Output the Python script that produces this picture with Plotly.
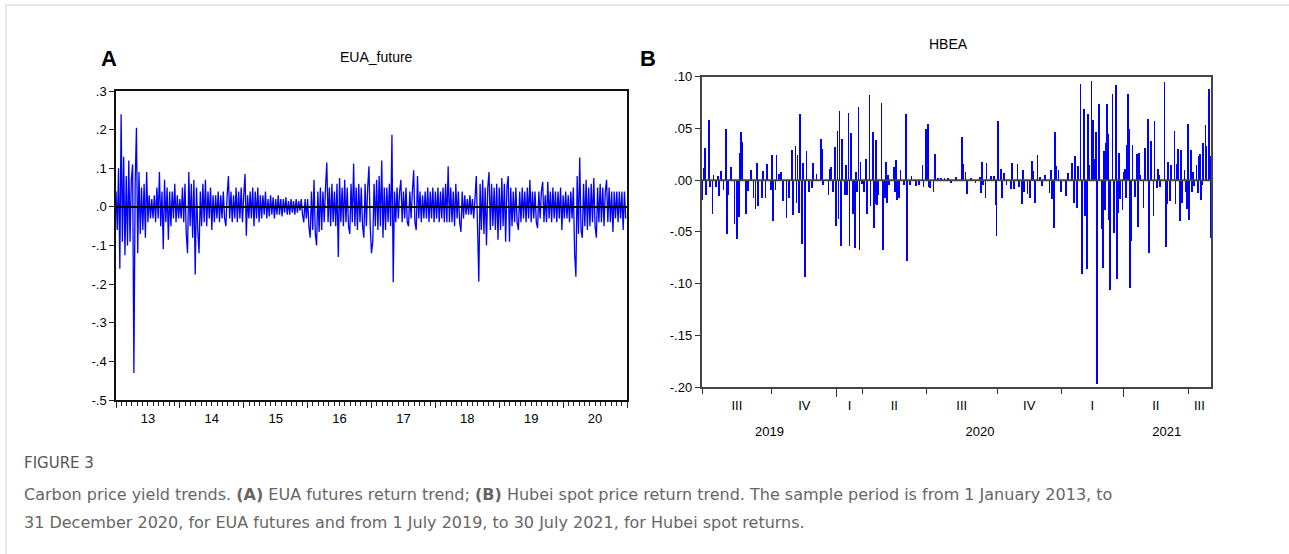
import plotly.graph_objects as go

# ---------------- EUA futures daily returns (panel A), ~50 readings per year ----------------
eua_years = [2013, 2014, 2015, 2016, 2017, 2018, 2019, 2020]
eua_2013 = [0.04, -0.06, 0.10, -0.16, 0.24, -0.09, 0.13, -0.125, 0.08, -0.10, 0.12, -0.09, 0.07, 0.11, -0.43,
            0.06, 0.205, -0.12, 0.09, -0.07, 0.05, -0.06, 0.06, -0.08, 0.09, -0.04, 0.03, -0.03, 0.02, -0.03,
            0.03, -0.04, 0.05, -0.03, 0.09, -0.05, 0.04, -0.11, 0.07, -0.04, 0.05, -0.085, 0.04, -0.05, 0.04,
            -0.03, 0.06, -0.04, 0.03, -0.03]
eua_2014 = [0.02, -0.03, 0.05, -0.04, 0.06, -0.07, -0.12, 0.09, -0.05, 0.06, -0.08, 0.07, -0.175, 0.05, -0.06,
            -0.12, 0.04, -0.05, 0.06, -0.04, 0.07, -0.05, 0.04, -0.03, 0.05, -0.06, 0.03, -0.04, 0.03, -0.03,
            0.04, -0.04, 0.03, -0.03, 0.04, -0.03, -0.05, 0.03, 0.08, -0.03, 0.04, -0.04, 0.03, -0.03, 0.05,
            -0.04, 0.04, -0.03, 0.05, -0.04]
eua_2015 = [0.03, 0.085, -0.075, 0.03, -0.03, 0.04, -0.03, 0.05, -0.05, 0.04, -0.03, 0.05, -0.04, 0.03, -0.03,
            0.03, -0.02, 0.04, -0.03, 0.02, -0.025, 0.03, -0.02, 0.025, -0.03, 0.02, -0.02, 0.03, -0.02, 0.02,
            -0.025, 0.02, -0.015, 0.025, -0.02, 0.015, -0.02, 0.02, -0.015, 0.015, -0.02, 0.02, -0.015, 0.015,
            -0.01, 0.02, -0.02, -0.04, 0.02, -0.03]
eua_2016 = [0.02, -0.05, -0.08, 0.04, -0.06, 0.07, -0.07, -0.10, 0.04, -0.065, 0.05, -0.06, 0.04, -0.04, 0.05,
            0.115, -0.04, 0.05, -0.05, 0.06, -0.04, 0.04, -0.05, 0.06, -0.13, 0.075, -0.04, 0.05, -0.05, 0.07,
            -0.04, 0.05, -0.05, -0.07, 0.06, -0.04, 0.112, -0.05, 0.05, -0.06, 0.06, -0.04, 0.05, -0.05, -0.08,
            0.06, -0.05, 0.05, 0.105, -0.05]
eua_2017 = [-0.12, -0.09, 0.06, -0.05, 0.07, -0.06, 0.08, -0.05, 0.12, -0.08, 0.05, -0.06, 0.05, -0.04, 0.06,
            -0.05, 0.187, -0.195, 0.04, -0.04, 0.05, -0.03, 0.04, 0.07, -0.04, 0.04, -0.03, 0.05, -0.04, -0.05,
            0.04, -0.03, 0.04, 0.095, -0.04, -0.06, 0.08, -0.03, 0.04, -0.04, 0.03, -0.03, 0.04, -0.03, 0.05,
            -0.04, 0.04, -0.03, 0.05, -0.04]
eua_2018 = [0.04, -0.03, 0.05, -0.04, 0.04, -0.03, 0.05, -0.04, 0.06, -0.04, 0.105, -0.04, 0.05, -0.04, 0.04,
            -0.05, 0.06, -0.03, 0.04, -0.04, -0.065, 0.04, -0.03, 0.03, -0.02, 0.02, -0.02, 0.03, -0.02, 0.02,
            -0.03, 0.02, 0.08, -0.05, -0.194, 0.06, -0.06, 0.07, -0.07, 0.05, -0.10, 0.05, 0.09, -0.06, 0.06,
            -0.05, 0.05, -0.06, 0.06, -0.085]
eua_2019 = [0.05, -0.06, 0.075, -0.05, 0.06, -0.09, 0.05, 0.08, -0.09, 0.05, -0.05, 0.04, -0.04, 0.05, -0.04,
            -0.06, 0.04, -0.04, 0.05, -0.03, 0.04, -0.04, 0.05, -0.03, 0.07, -0.04, 0.04, -0.03, 0.04, -0.04,
            -0.055, 0.04, -0.03, 0.04, 0.065, -0.04, 0.03, -0.04, 0.065, -0.03, 0.04, -0.04, 0.05, -0.03, 0.04,
            -0.04, 0.04, -0.03, 0.05, -0.06]
eua_2020 = [0.03, -0.03, 0.04, -0.03, 0.03, -0.04, 0.04, -0.03, 0.05, -0.12, -0.181, 0.08, -0.07, 0.128, -0.06,
            -0.08, 0.06, -0.05, 0.07, -0.06, 0.05, -0.05, 0.06, -0.04, 0.075, -0.05, -0.08, 0.05, -0.04, 0.06,
            -0.04, 0.05, -0.05, 0.04, 0.07, -0.04, 0.05, -0.04, 0.04, -0.065, 0.04, -0.03, 0.04, -0.04, 0.04,
            -0.03, 0.04, -0.06, 0.04, -0.03]
eua_by_year = [eua_2013, eua_2014, eua_2015, eua_2016, eua_2017, eua_2018, eua_2019, eua_2020]
eua_tick_labels = ['13', '14', '15', '16', '17', '18', '19', '20']
eua_y_ticks = [-0.5, -0.4, -0.3, -0.2, -0.1, 0.0, 0.1, 0.2, 0.3]
eua_y_labels = ['-.5', '-.4', '-.3', '-.2', '-.1', '.0', '.1', '.2', '.3']

# ---------------- Hubei (HBEA) spot returns (panel B): (observation number, return) ----------------
hbea_points = [
    (0, -0.019), (1, 0.012), (2, 0.031), (3, -0.014), (6, 0.058), (7, -0.006), (9, -0.032), (10, 0.005),
    (12, -0.006), (14, 0.004), (15, -0.015), (17, 0.009), (19, -0.009), (21, 0.050), (22, -0.052), (23, -0.014),
    (26, 0.013), (29, -0.042), (31, -0.057), (33, -0.035), (34, 0.027), (35, 0.047), (36, 0.037), (39, -0.032),
    (41, -0.010), (44, 0.010), (46, -0.017), (48, -0.028), (49, 0.017), (50, -0.025), (54, -0.017), (55, 0.009),
    (57, -0.017), (58, 0.016), (62, -0.009), (63, 0.025), (64, -0.039), (66, -0.009), (67, 0.025), (69, 0.006),
    (71, 0.008), (73, -0.020), (76, -0.036), (78, -0.017), (81, 0.029), (82, -0.033), (84, 0.033), (85, -0.022),
    (86, 0.025), (87, -0.031), (88, 0.064), (90, -0.061), (91, 0.017), (93, -0.093), (94, 0.028), (96, -0.011),
    (99, -0.007), (100, 0.017), (103, 0.006), (107, 0.040), (108, 0.030), (109, -0.004), (114, -0.014),
    (115, 0.011), (116, 0.013), (118, -0.011), (120, 0.032), (121, -0.044), (122, 0.048), (123, -0.037),
    (124, 0.067), (125, -0.063), (126, 0.040), (129, -0.014), (130, 0.015), (131, -0.014), (132, 0.065),
    (133, -0.063), (134, 0.046), (136, -0.032), (138, -0.065), (139, 0.008), (140, -0.011), (141, 0.071),
    (142, -0.067), (143, 0.018), (144, -0.003), (146, -0.011), (148, 0.021), (149, -0.032), (151, 0.083),
    (152, -0.025), (154, 0.047), (155, -0.046), (156, -0.023), (157, 0.039), (158, -0.024), (159, -0.014),
    (162, 0.075), (163, -0.067), (165, -0.017), (166, 0.018), (167, -0.022), (168, 0.005), (169, -0.004),
    (173, 0.013), (174, -0.011), (175, 0.020), (176, -0.019), (178, -0.017), (179, 0.010), (182, -0.004),
    (184, 0.064), (185, -0.078), (188, -0.004), (189, 0.004), (193, -0.005), (196, -0.004), (199, 0.015),
    (200, -0.006), (202, 0.050), (204, 0.055), (205, -0.006), (206, -0.007), (209, -0.011), (210, 0.026),
    (213, 0.002), (216, 0.002), (219, 0.002), (222, 0.002), (225, -0.002), (229, 0.003), (235, 0.042),
    (236, 0.016), (238, 0.008), (239, -0.013), (243, 0.002), (247, -0.002), (251, 0.003), (252, -0.012),
    (253, 0.018), (254, -0.004), (256, -0.017), (257, 0.017), (261, 0.004), (264, 0.004), (265, -0.024),
    (266, -0.054), (267, 0.057), (270, 0.011), (271, -0.017), (273, 0.007), (275, -0.004), (279, -0.008),
    (280, 0.017), (282, -0.008), (285, 0.016), (286, -0.006), (289, -0.023), (290, 0.010), (291, -0.011),
    (294, -0.013), (296, -0.017), (298, 0.019), (299, 0.009), (301, -0.022), (303, 0.025), (305, 0.003),
    (307, -0.005), (310, 0.005), (314, -0.012), (315, 0.010), (316, -0.018), (318, -0.046), (319, 0.047),
    (320, 0.014), (322, 0.010), (324, -0.011), (329, -0.015), (331, 0.007), (334, 0.017), (336, -0.022),
    (337, 0.024), (339, -0.027), (340, 0.014), (342, 0.093), (343, -0.090), (345, 0.069), (346, -0.034),
    (347, -0.007), (348, -0.086), (349, 0.064), (350, 0.015), (352, 0.096), (353, 0.058), (354, 0.021),
    (356, 0.047), (357, -0.197), (359, 0.074), (361, -0.047), (362, -0.085), (363, 0.028), (364, -0.029),
    (365, 0.036), (366, 0.074), (367, 0.045), (368, -0.038), (369, -0.106), (371, 0.084), (372, -0.051),
    (374, 0.092), (375, -0.095), (376, -0.031), (377, 0.027), (378, -0.018), (380, -0.029), (381, 0.008),
    (382, 0.011), (383, -0.017), (384, 0.034), (385, 0.084), (386, 0.050), (387, -0.104), (388, -0.059),
    (389, 0.034), (391, -0.016), (393, 0.026), (394, -0.045), (395, 0.027), (396, 0.005), (399, -0.027),
    (400, 0.031), (403, 0.059), (404, -0.070), (406, 0.038), (408, -0.034), (409, 0.057), (411, -0.007),
    (412, 0.011), (413, 0.005), (414, -0.006), (418, 0.095), (419, -0.064), (420, -0.023), (421, 0.018),
    (423, -0.020), (424, 0.015), (427, 0.048), (428, -0.023), (429, 0.016), (430, 0.030), (432, -0.039),
    (433, 0.029), (434, -0.022), (436, 0.010), (437, -0.011), (438, -0.028), (439, 0.055), (440, -0.038),
    (442, 0.029), (443, -0.011), (444, 0.008), (445, -0.005), (447, 0.015), (448, -0.012), (449, 0.024),
    (450, 0.026), (451, -0.019), (452, -0.004), (453, 0.036), (455, 0.054), (456, 0.033), (458, 0.088),
    (459, 0.024), (460, -0.056),
]
hbea_n_obs = 461
hbea_quarter_start = [0, 63, 122, 145, 203, 267, 325, 381, 440]
hbea_quarter_labels = ['III', 'IV', 'I', 'II', 'III', 'IV', 'I', 'II', 'III']
hbea_year_start = [0, 122, 381]
hbea_year_labels = ['2019', '2020', '2021']
hbea_y_ticks = [-0.20, -0.15, -0.10, -0.05, 0.0, 0.05, 0.10]
hbea_y_labels = ['-.20', '-.15', '-.10', '-.05', '.00', '.05', '.10']

# ---------------- derived series ----------------
eua_x, eua_y = [], []
for yr, vals in zip(eua_years, eua_by_year):
    n = len(vals)
    for i, v in enumerate(vals):
        eua_x.append(yr + i / n)
        eua_y.append(v)
eua_year_mid = [y + 0.5 for y in eua_years]
eua_year_bounds = eua_years + [eua_years[-1] + 1]
eua_months = [y + m / 12 for y in eua_years for m in range(12)] + [eua_years[-1] + 1]

hbea_obs = [p[0] for p in hbea_points]
hbea_ret = [p[1] for p in hbea_points]
q_bounds = hbea_quarter_start + [hbea_n_obs - 1]
hbea_quarter_mid = [(q_bounds[i] + q_bounds[i + 1]) / 2 for i in range(len(hbea_quarter_start))]
y_bounds = hbea_year_start + [hbea_n_obs - 1]
hbea_year_mid = [(y_bounds[i] + y_bounds[i + 1]) / 2 for i in range(len(hbea_year_start))]

W, H = 1289, 554
def px(x):
    return x / W
def py(y):
    return 1 - y / H

FONT = 'Liberation Sans, Arial, sans-serif'
CAP_FONT = 'DejaVu Sans, sans-serif'
BLUE = '#0000ff'

fig = go.Figure()
fig.add_trace(go.Scatter(x=eua_x, y=eua_y, mode='lines', line=dict(color=BLUE, width=1.3, simplify=False),
                         xaxis='x', yaxis='y', hoverinfo='skip', showlegend=False))
fig.add_trace(go.Bar(x=hbea_obs, y=hbea_ret, width=0.7, marker=dict(color=BLUE, line=dict(width=0)),
                     xaxis='x2', yaxis='y2', hoverinfo='skip', showlegend=False))
# carriers for the overlay tick axes
for xa, ya, xv in [('x3', 'y', 2017), ('x4', 'y2', 200), ('x5', 'y2', 200)]:
    fig.add_trace(go.Scatter(x=[xv], y=[0], mode='markers', marker=dict(opacity=0),
                             xaxis=xa, yaxis=ya, hoverinfo='skip', showlegend=False))

A_dom_x = [px(116), px(627)]
A_dom_y = [py(400), py(91)]
B_dom_x = [px(701.5), px(1211)]
B_dom_y = [py(387), py(76.7)]
tick_font = dict(family=FONT, size=13, color='#000')

fig.update_layout(
    template='none',
    width=W, height=H, margin=dict(l=0, r=0, t=0, b=0, pad=0, autoexpand=False),
    paper_bgcolor='white', plot_bgcolor='white', showlegend=False,
    font=dict(family=FONT, size=13, color='#000'),
    bargap=0,
    xaxis=dict(domain=A_dom_x, anchor='y', range=[eua_years[0], eua_years[-1] + 1], automargin=False,
               tickmode='array', tickvals=eua_year_mid, ticktext=eua_tick_labels,
               ticks='outside', ticklen=4, tickcolor='#222', tickwidth=1,
               minor=dict(tickmode='array', tickvals=eua_months, ticks='outside', ticklen=4,
                          tickcolor='#222', tickwidth=1, showgrid=False),
               ticklabelstandoff=2, tickfont=tick_font,
               showline=True, mirror=True, linecolor='#111', linewidth=1.5,
               showgrid=False, zeroline=False),
    xaxis3=dict(overlaying='x', anchor='y', range=[eua_years[0], eua_years[-1] + 1], automargin=False,
                tickmode='array', tickvals=eua_year_bounds, ticks='outside', ticklen=7,
                tickcolor='#222', tickwidth=1, showticklabels=False, showline=False,
                showgrid=False, zeroline=False, side='bottom'),
    yaxis=dict(domain=A_dom_y, anchor='x', range=[-0.5, 0.3], automargin=False,
               tickmode='array', tickvals=eua_y_ticks, ticktext=eua_y_labels,
               ticks='outside', ticklen=5, tickcolor='#222', tickfont=tick_font,
               showline=True, mirror=True, linecolor='#111', linewidth=1.5,
               showgrid=False, zeroline=False),
    xaxis2=dict(domain=B_dom_x, anchor='y2', range=[-0.5, hbea_n_obs - 0.5], automargin=False,
                tickmode='array', tickvals=hbea_quarter_mid, ticktext=hbea_quarter_labels,
                ticks='outside', ticklen=0, tickcolor='#333',
                minor=dict(tickmode='array', tickvals=hbea_quarter_start, ticks='outside', ticklen=5,
                           tickcolor='#333', tickwidth=1, showgrid=False),
                ticklabelstandoff=6, tickfont=tick_font,
                showline=True, mirror=True, linecolor='#444', linewidth=1.5,
                showgrid=False, zeroline=False),
    xaxis4=dict(overlaying='x2', anchor='y2', range=[-0.5, hbea_n_obs - 0.5], automargin=False,
                tickmode='array', tickvals=hbea_year_start[1:], ticks='outside', ticklen=9,
                tickcolor='#333', tickwidth=1, showticklabels=False, showline=False,
                showgrid=False, zeroline=False, side='bottom'),
    xaxis5=dict(overlaying='x2', anchor='y2', range=[-0.5, hbea_n_obs - 0.5], automargin=False,
                tickmode='array', tickvals=hbea_year_mid, ticktext=hbea_year_labels,
                ticks='', ticklabelstandoff=35, tickfont=tick_font, showline=False,
                showgrid=False, zeroline=False, side='bottom'),
    yaxis2=dict(domain=B_dom_y, anchor='x2', range=[-0.2, 0.1], automargin=False,
                tickmode='array', tickvals=hbea_y_ticks, ticktext=hbea_y_labels,
                ticks='outside', ticklen=5, tickcolor='#333', tickfont=tick_font,
                showline=True, mirror=True, linecolor='#444', linewidth=1.5,
                showgrid=False, zeroline=False),
)

# zero reference lines
fig.add_shape(type='line', xref='x domain', yref='y', x0=0, x1=1, y0=0, y1=0,
              line=dict(color='#000', width=2), layer='above')
fig.add_shape(type='line', xref='x2 domain', yref='y2', x0=0, x1=1, y0=0, y1=0,
              line=dict(color='#444', width=2), layer='above')
# page frame
fig.add_shape(type='rect', xref='paper', yref='paper', x0=px(6), x1=1.05, y0=-0.05, y1=py(5),
              line=dict(color='#d0d0d0', width=1), fillcolor='rgba(0,0,0,0)', layer='below')

ann = [
    dict(text='<b>A</b>', x=px(99), y=py(58), xanchor='left', yanchor='middle',
         font=dict(family=FONT, size=22, color='#000')),
    dict(text='<b>B</b>', x=px(638), y=py(58), xanchor='left', yanchor='middle',
         font=dict(family=FONT, size=22, color='#000')),
    dict(text='EUA_future', x=px(377), y=py(57), xanchor='center', yanchor='middle',
         font=dict(family=FONT, size=14, color='#000')),
    dict(text='HBEA', x=px(948), y=py(44), xanchor='center', yanchor='middle',
         font=dict(family=FONT, size=14, color='#000')),
    dict(text='FIGURE 3', x=px(22), y=py(463), xanchor='left', yanchor='middle',
         font=dict(family=CAP_FONT, size=15, color='#555')),
    dict(text='Carbon price yield trends. <b>(A)</b> EUA futures return trend; <b>(B)</b> Hubei spot price '
              'return trend. The sample period is from 1 January 2013, to',
         x=px(22), y=py(494), xanchor='left', yanchor='middle',
         font=dict(family=CAP_FONT, size=16, color='#666')),
    dict(text='31 December 2020, for EUA futures and from 1 July 2019, to 30 July 2021, for Hubei spot returns.',
         x=px(22), y=py(522), xanchor='left', yanchor='middle',
         font=dict(family=CAP_FONT, size=16, color='#666')),
]
for a in ann:
    a.update(xref='paper', yref='paper', showarrow=False)
    fig.add_annotation(**a)

fig.write_html("out.html", config={'displayModeBar': False},
               post_script="document.body.style.margin='0';document.body.style.overflow='hidden';")
